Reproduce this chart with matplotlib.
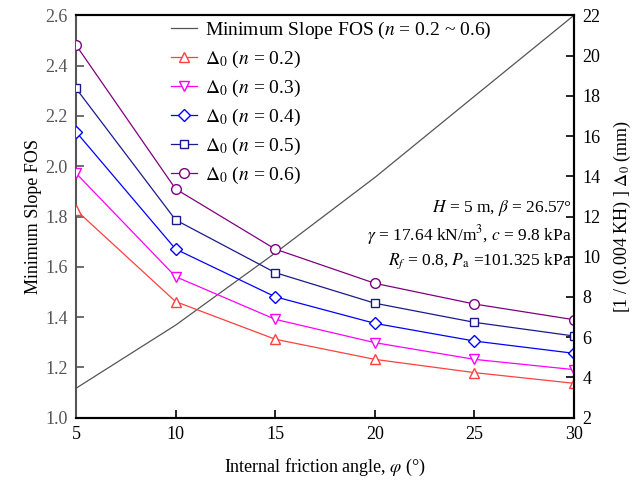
import matplotlib
matplotlib.use('Agg')
import matplotlib.pyplot as plt

plt.rcParams['font.family'] = ['Liberation Serif', 'DejaVu Serif']
plt.rcParams['mathtext.fontset'] = 'stix'
plt.rcParams['font.size'] = 13

# friction angle (deg)
phi = [5, 10, 15, 20, 25, 30]

# minimum slope FOS (left axis), same for all n
fos = [1.117, 1.368, 1.655, 1.955, 2.278, 2.6]

# normalised Delta_0 (right axis, mm)
d_n02 = [12.32, 7.77, 5.90, 4.90, 4.24, 3.71]
d_n03 = [14.15, 9.01, 6.89, 5.73, 4.90, 4.39]
d_n04 = [16.21, 10.38, 8.01, 6.69, 5.81, 5.20]
d_n05 = [18.37, 11.83, 9.21, 7.69, 6.74, 6.06]
d_n06 = [20.52, 13.37, 10.38, 8.68, 7.65, 6.87]

n_labels = ['0.2', '0.3', '0.4', '0.5', '0.6']
series = [d_n02, d_n03, d_n04, d_n05, d_n06]
colors = ['#ff4040', '#ff00ff', '#0000ff', '#1a1a8c', '#800080']
markers = ['^', 'v', 'D', 's', 'o']
msizes = [7.5, 7.5, 6.5, 6, 7]

fig = plt.figure(figsize=(6.44, 4.82), dpi=100)
ax = fig.add_axes([76/644, 1-417.7/482, (574-76)/644, (417.7-15.3)/482])
ax2 = ax.twinx()

h0, = ax.plot(phi, fos, color='#555555', lw=0.9,
              label='Minimum Slope FOS ($n$ = 0.2 ~ 0.6)')
handles = [h0]
for vals, c, m, ms, lab in zip(series, colors, markers, msizes, n_labels):
    h, = ax2.plot(phi, vals, color=c, lw=0.9, marker=m, ms=ms,
                  mfc='white', mec=c, mew=1.0,
                  label='$\\Delta_0$ ($n$ = ' + lab + ')')
    handles.append(h)

ax.set_xlim(5, 30)
ax.set_ylim(1.0, 2.6)
ax2.set_ylim(2, 22)
ax.set_xticks(phi)
ax.set_yticks([1.0, 1.2, 1.4, 1.6, 1.8, 2.0, 2.2, 2.4, 2.6])
ax.set_yticklabels(['1.0', '1.2', '1.4', '1.6', '1.8', '2.0', '2.2', '2.4', '2.6'])
ax2.set_yticks(range(2, 23, 2))

ax.tick_params(axis='x', direction='in', length=6, width=1.2, top=False, pad=6)
ax.tick_params(axis='y', direction='in', length=6, width=1.2, colors='#555555',
               labelcolor='#555555', pad=6)
ax2.tick_params(axis='y', direction='in', length=6, width=1.2, pad=6)
for sp in ['bottom', 'top', 'right']:
    ax.spines[sp].set_linewidth(1.5)
ax.spines['left'].set_linewidth(1.5)
ax.spines['left'].set_color('#555555')
for sp in ax2.spines.values():
    sp.set_linewidth(1.5)
ax2.spines['left'].set_visible(False)

ax.set_xlabel('Internal friction angle, $\\varphi$ (°)', labelpad=10)
ax.set_ylabel('Minimum Slope FOS', labelpad=2)
ax2.set_ylabel('[1 / (0.004 KH) ] $\\Delta_0$ (mm)', labelpad=8)

ax2.legend(handles=handles, loc='upper left', bbox_to_anchor=(171/644, 1-20/482),
           bbox_transform=fig.transFigure, frameon=False, handlelength=1.35,
           handletextpad=0.4, labelspacing=0.4, borderaxespad=0, borderpad=0,
           fontsize=14)

ax2.text(0.995, 0.52, '$H$ = 5 m, $\\beta$ = 26.57°', transform=ax.transAxes,
         ha='right', va='center', fontsize=12.5)
ax2.text(0.995, 0.455, '$\\gamma$ = 17.64 kN/m$^3$, $c$ = 9.8 kPa', transform=ax.transAxes,
         ha='right', va='center', fontsize=12.5)
ax2.text(0.995, 0.39, '$R_f$ = 0.8, $P_{\\rm a}$ =101.325 kPa', transform=ax.transAxes,
         ha='right', va='center', fontsize=12.5)

fig.savefig('out.png', dpi=100)
